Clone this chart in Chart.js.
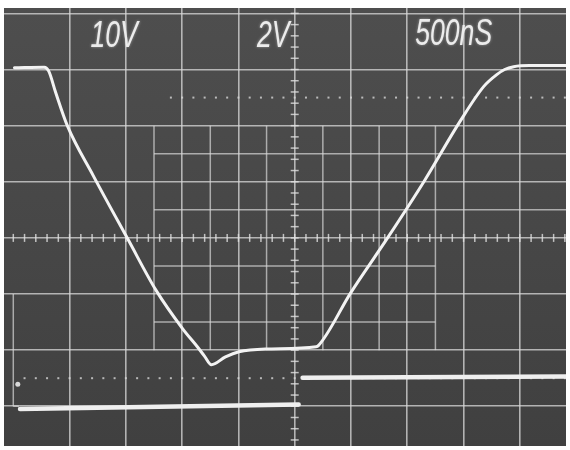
<!DOCTYPE html>
<html>
<head>
<meta charset="utf-8">
<script src="https://cdn.jsdelivr.net/npm/chart.js@4.4.1/dist/chart.umd.min.js"></script>
<style>
  html, body { margin: 0; padding: 0; background: #fff; }
</style>
</head>
<body>
<canvas id="scope" width="570" height="450"></canvas>
<script>
// graticule divisions (major lines)
const xGrid = [1, 2, 3, 4, 5, 6, 7, 8, 9];
const yGrid = [1, 2, 3, 4, 5, 6, 7, 8];

// channel 1 trace in divisions
const traceV = [0.02, 0.55, 0.63, 0.75, 0.96, 1.42, 2.04, 2.54, 3.01, 3.27, 3.40, 3.52, 3.77, 4.01, 4.48, 5.38, 5.42, 6.00, 6.65, 7.30, 7.94, 8.36, 8.59, 8.73, 8.89, 9.17, 9.82];
const traceW = [7.03, 7.04, 6.97, 6.60, 6.00, 5.11, 3.97, 3.06, 2.38, 2.06, 1.89, 1.74, 1.88, 1.97, 2.02, 2.06, 2.08, 3.03, 4.00, 5.01, 6.08, 6.70, 6.91, 7.00, 7.05, 7.07, 7.07];

// channel 2 step (gap where the fast edge leaves no trace)
const stepV = [0.12, 5.07, 5.10, 5.14, 9.82];
const stepW = [0.95, 1.03, null, 1.51, 1.53];

// ground marker spot
const markV = [0.08];
const markW = [1.39];

const labelTexts = ['10V', '2V', '500nS'];

const toPoints = (xs, ys) => xs.map((x, i) => ({ x: x, y: ys[i] }));

const screenPlugin = {
  id: 'screen',
  beforeDraw(chart) {
    const { ctx, chartArea: a, width, height } = chart;
    ctx.save();
    ctx.fillStyle = '#ffffff';
    ctx.fillRect(0, 0, width, height);
    const g = ctx.createLinearGradient(0, a.top, 0, a.bottom);
    g.addColorStop(0, '#4e4e4e');
    g.addColorStop(1, '#404040');
    ctx.fillStyle = g;
    ctx.fillRect(a.left, a.top, a.right - a.left, a.bottom - a.top);
    ctx.restore();
  },
  beforeDatasetsDraw(chart) {
    const { ctx, scales: { x, y } } = chart;
    const px = v => x.getPixelForValue(v);
    const py = w => y.getPixelForValue(w);
    const line = (x1, y1, x2, y2) => {
      ctx.beginPath();
      ctx.moveTo(x1, y1);
      ctx.lineTo(x2, y2);
      ctx.stroke();
    };
    ctx.save();
    ctx.strokeStyle = 'rgba(215,215,215,0.7)';
    ctx.lineWidth = 1.5;

    // half-division box in the middle
    [2.5, 3.5, 4.5, 5.5, 6.5, 7.5].forEach(v => line(px(v), py(6), px(v), py(2)));
    [4.5, 5.5].forEach(w => line(px(2.5), py(w), x.right, py(w)));
    [2.5, 3.5].forEach(w => line(px(2.5), py(w), px(7.5), py(w)));

    // left edge piece
    line(px(0), py(3), px(0), py(1));
    line(px(0), py(1), px(0.1), py(1));

    // minor ticks on the centre axes
    ctx.strokeStyle = 'rgba(225,225,225,0.8)';
    for (let k = 0; k <= 49; k++) {
      const xp = px(k / 5);
      line(xp, py(4) - 4, xp, py(4) + 4);
    }
    for (let k = 2; k <= 40; k++) {
      const yp = py(k / 5);
      line(px(5) - 4, yp, px(5) + 4, yp);
    }

    // dotted 10% / 90% lines
    ctx.fillStyle = 'rgba(215,215,215,0.8)';
    for (let k = 14; k <= 49; k++) ctx.fillRect(px(k / 5) - 1, py(6.5) - 1, 2, 2);
    for (let k = 1; k <= 49; k++) ctx.fillRect(px(k / 5) - 1, py(1.5) - 1, 2, 2);
    ctx.restore();
  },
  afterDraw(chart) {
    const { ctx, scales: { x, y } } = chart;
    const put = (t, v, w) => {
      ctx.save();
      ctx.translate(x.getPixelForValue(v), y.getPixelForValue(w));
      ctx.scale(0.72, 1);
      ctx.fillText(t, 0, 0);
      ctx.restore();
    };
    ctx.save();
    ctx.font = 'italic 37px "Liberation Sans", Arimo, sans-serif';
    ctx.fillStyle = '#ececec';
    ctx.shadowColor = 'rgba(255,255,255,0.45)';
    ctx.shadowBlur = 3;
    put(labelTexts[0], 1.37, 7.41);
    put(labelTexts[1], 4.33, 7.41);
    put(labelTexts[2], 7.14, 7.44);
    ctx.restore();
  }
};

const gridLook = {
  drawTicks: false,
  color: 'rgba(215,215,215,0.76)',
  lineWidth: 1.6
};

new Chart(document.getElementById('scope'), {
  type: 'scatter',
  data: {
    datasets: [
      {
        label: 'CH1',
        data: toPoints(traceV, traceW),
        showLine: true,
        borderColor: '#f3f3f3',
        borderWidth: 3,
        pointRadius: 0,
        cubicInterpolationMode: 'monotone',
        borderCapStyle: 'round'
      },
      {
        label: 'CH2',
        data: toPoints(stepV, stepW),
        showLine: true,
        spanGaps: false,
        borderColor: '#efefef',
        borderWidth: 4.5,
        pointRadius: 0,
        borderCapStyle: 'round'
      },
      {
        label: 'mark',
        data: toPoints(markV, markW),
        pointRadius: 2.5,
        backgroundColor: '#d8d8d8',
        borderWidth: 0
      }
    ]
  },
  options: {
    responsive: false,
    animation: false,
    layout: { padding: { left: 3, top: 8, right: 0, bottom: 0 } },
    plugins: {
      legend: { display: false },
      tooltip: { enabled: false }
    },
    scales: {
      x: {
        type: 'linear',
        min: -0.165,
        max: 9.82,
        afterBuildTicks: s => { s.ticks = xGrid.map(v => ({ value: v })); },
        ticks: { display: false },
        border: { display: false },
        grid: gridLook
      },
      y: {
        type: 'linear',
        min: 0.292,
        max: 8.096,
        afterBuildTicks: s => { s.ticks = yGrid.map(v => ({ value: v })); },
        ticks: { display: false },
        border: { display: false },
        grid: gridLook
      }
    }
  },
  plugins: [screenPlugin]
});
</script>
</body>
</html>
